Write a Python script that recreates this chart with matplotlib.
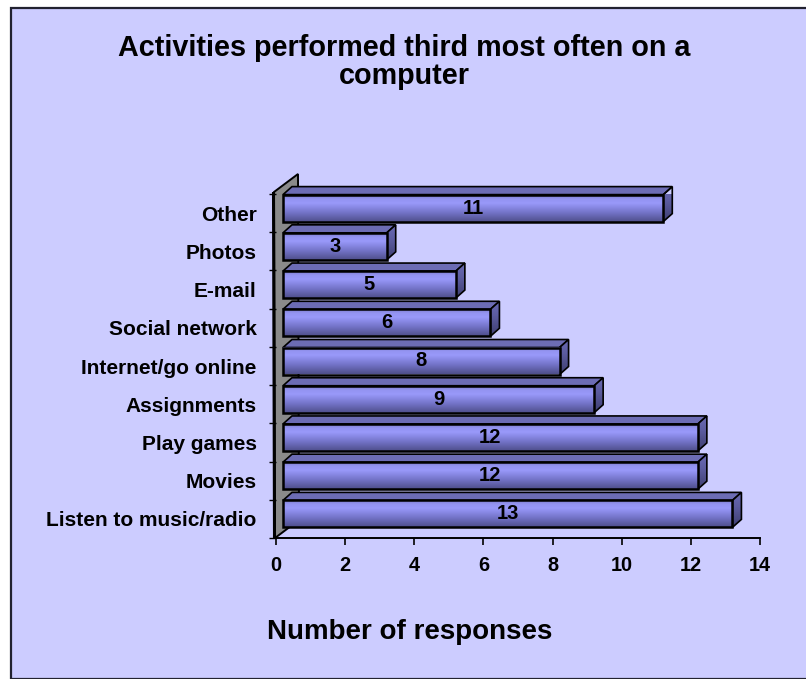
import matplotlib
matplotlib.use("Agg")
import matplotlib.pyplot as plt
import numpy as np
from matplotlib.patches import Polygon, Rectangle
from matplotlib.colors import LinearSegmentedColormap

plt.rcParams['font.family'] = ['Liberation Sans', 'DejaVu Sans']
plt.rcParams['font.weight'] = 'bold'

# Data (bottom to top)
categories = ["Listen to music/radio", "Movies", "Play games", "Assignments",
              "Internet/go online", "Social network", "E-mail", "Photos", "Other"]
responses = [13, 12, 12, 9, 8, 6, 5, 3, 11]
x_ticks = [0, 2, 4, 6, 8, 10, 12, 14]

title = "Activities performed third most often on a\ncomputer"
x_label = "Number of responses"

W, H = 806, 679
DPI = 100
fig = plt.figure(figsize=(W / DPI, H / DPI), dpi=DPI, facecolor="white")

# chart area background with border on top/left
bg = Rectangle((11 / W, 0), 1, (H - 8) / H, transform=fig.transFigure,
               facecolor="#CCCCFF", edgecolor="#222230", linewidth=1.6, zorder=-5)
fig.patches.append(bg)

# plot area in pixels
ax_left, ax_right = 276, 760
ax_top, ax_bottom = 194, 538
ax = fig.add_axes([ax_left / W, (H - ax_bottom) / H,
                   (ax_right - ax_left) / W, (ax_bottom - ax_top) / H])
ax.set_facecolor("none")
ax.set_zorder(2)

XMAX = 14
NCAT = len(categories)
px_x = XMAX / (ax_right - ax_left)     # data units per pixel
px_y = NCAT / (ax_bottom - ax_top)

# 3D geometry in pixels
FACE_DX, FACE_DY = 7, 5      # front face offset from axis plane
BAR_H = 27                   # bar front face height
DEPTH_DX, DEPTH_DY = 9, 8    # bar depth
WALL_DX, WALL_DY = 24, 18    # side wall depth

edge = "#000000"

# side wall
wall = Polygon([(-1 * px_x, 0), (-2 * px_x, NCAT + 2 * px_y),
                ((WALL_DX - 2) * px_x, NCAT + (2 + WALL_DY) * px_y),
                ((WALL_DX - 1) * px_x, WALL_DY * px_y)],
               closed=True, facecolor="#8A8A8A", edgecolor=edge, linewidth=1.4,
               zorder=1, clip_on=False)
ax.add_patch(wall)
# darker front edge of the wall
ax.plot([-1.5 * px_x, -2.5 * px_x], [0, NCAT + 2 * px_y], color=edge,
        linewidth=2.2, zorder=1.1, clip_on=False, solid_capstyle="butt")

face_cmap = LinearSegmentedColormap.from_list(
    "face", [(0.0, "#4E4E8A"), (0.35, "#7474C8"), (0.7, "#9999FA"),
             (0.85, "#9494F2"), (1.0, "#7C7CCC")])
side_cmap = LinearSegmentedColormap.from_list(
    "side", [(0.0, "#3E3E70"), (0.6, "#5C5CA0"), (1.0, "#6A6AB4")])
grad = np.linspace(0, 1, 128).reshape(-1, 1)

for i, (cat, val) in enumerate(zip(categories, responses)):
    yc = i + 0.5 + FACE_DY * px_y
    y0 = yc - BAR_H / 2 * px_y
    y1 = yc + BAR_H / 2 * px_y
    x0 = FACE_DX * px_x
    x1 = val + FACE_DX * px_x
    ddx = DEPTH_DX * px_x
    ddy = DEPTH_DY * px_y
    z = 3 + i * 0.1

    # top face
    top = Polygon([(x0, y1), (x1, y1), (x1 + ddx, y1 + ddy), (x0 + ddx, y1 + ddy)],
                  closed=True, facecolor="#6C6CB4", edgecolor=edge, linewidth=1.2,
                  zorder=z, clip_on=False)
    ax.add_patch(top)
    # side face (gradient)
    side = Polygon([(x1, y0), (x1 + ddx, y0 + ddy), (x1 + ddx, y1 + ddy), (x1, y1)],
                   closed=True, facecolor="none", edgecolor=edge, linewidth=1.2,
                   zorder=z + 0.02, clip_on=False)
    ax.add_patch(side)
    im = ax.imshow(grad, extent=[x1, x1 + ddx, y0, y1 + ddy], origin="lower",
                   aspect="auto", cmap=side_cmap, zorder=z + 0.01,
                   interpolation="bilinear")
    im.set_clip_path(side)
    # front face (gradient)
    ax.imshow(grad, extent=[x0, x1, y0, y1], origin="lower", aspect="auto",
              cmap=face_cmap, zorder=z + 0.03, interpolation="bilinear")
    ax.add_patch(Rectangle((x0, y0), x1 - x0, y1 - y0, facecolor="none",
                           edgecolor=edge, linewidth=1.8, zorder=z + 0.04))
    ax.text((x0 + x1) / 2, yc, str(val), ha="center", va="center",
            fontsize=14.5, fontweight="bold", color="black", zorder=z + 0.05)

ax.set_xlim(0, XMAX)
ax.set_ylim(0, NCAT)

for s in ("top", "right", "left"):
    ax.spines[s].set_visible(False)
ax.spines["bottom"].set_linewidth(1.4)

ax.set_xticks(x_ticks)
ax.set_xticklabels([str(t) for t in x_ticks], fontsize=14.3, fontweight="bold")
ax.tick_params(axis="x", length=5, width=1.2, pad=8, direction="out")

ax.set_yticks(np.arange(NCAT) + 0.5)
ax.set_yticklabels(categories, fontsize=15, fontweight="bold")
ax.set_yticks(np.arange(NCAT + 1), minor=True)
ax.tick_params(axis="y", which="major", length=0, pad=14)
ax.tick_params(axis="y", which="minor", length=5, width=1.0, direction="out")

fig.text(404 / W, 1 - 62 / H, title, ha="center", va="center",
         fontsize=20.7, fontweight="bold", linespacing=0.97)
fig.text(410 / W, 1 - 632 / H, x_label, ha="center", va="center",
         fontsize=20, fontweight="bold")

fig.savefig("out.png", dpi=DPI, facecolor=fig.get_facecolor())
